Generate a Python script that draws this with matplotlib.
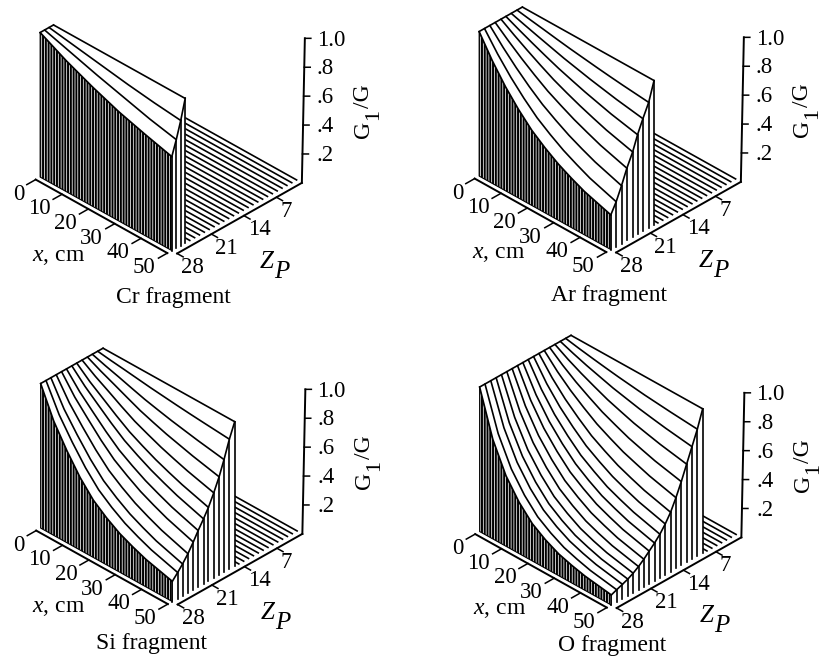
#!/usr/bin/env python
# -*- coding: utf-8 -*-
import numpy as np
import matplotlib
matplotlib.use("Agg")
import matplotlib.pyplot as plt
from mpl_toolkits.mplot3d import proj3d
from mpl_toolkits.mplot3d.art3d import Poly3DCollection

plt.rcParams["font.family"] = ["Liberation Serif", "DejaVu Serif"]
plt.rcParams["mathtext.fontset"] = "custom"
plt.rcParams["mathtext.rm"] = "Liberation Serif"
plt.rcParams["mathtext.it"] = "Liberation Serif:italic"
plt.rcParams["hatch.linewidth"] = 1.45

# x grids, cm
x_coarse = [0, 10, 20, 30, 40, 50]
x_fine = [0, 5, 10, 15, 20, 25, 30, 35, 40, 50]

# G1/G, one row per Z_P line, back to front
cr_z = [25, 26, 27, 28]
cr_g = [
    [1, 1, 1, 1, 1, 1],
    [1, 0.97, 0.94, 0.91, 0.885, 0.865],
    [1, 0.945, 0.89, 0.84, 0.79, 0.75],
    [1, 0.905, 0.825, 0.755, 0.70, 0.65],
]

ar_z = [18.3, 19.5, 20.8, 22.0, 23.1, 24.4, 25.6, 26.8, 28]
ar_g = [
    [1, 1, 1, 1, 1, 1, 1, 1, 1, 1],
    [1, 0.984, 0.969, 0.953, 0.938, 0.925, 0.912, 0.900, 0.889, 0.87],
    [1, 0.972, 0.945, 0.919, 0.893, 0.871, 0.849, 0.830, 0.811, 0.78],
    [1, 0.958, 0.918, 0.880, 0.844, 0.813, 0.783, 0.757, 0.731, 0.69],
    [1, 0.941, 0.886, 0.834, 0.785, 0.744, 0.706, 0.672, 0.640, 0.59],
    [1, 0.924, 0.853, 0.788, 0.728, 0.679, 0.633, 0.594, 0.557, 0.50],
    [1, 0.900, 0.810, 0.729, 0.657, 0.599, 0.546, 0.502, 0.462, 0.40],
    [1, 0.874, 0.764, 0.669, 0.585, 0.520, 0.462, 0.415, 0.372, 0.31],
    [1, 0.849, 0.72, 0.612, 0.52, 0.450, 0.39, 0.342, 0.30, 0.24],
]

si_z = [14, 15.2, 16.4, 17.5, 18.7, 19.9, 21, 22.2, 23.3, 24.5, 25.7, 26.8, 28]
si_g = [
    [1, 1, 1, 1, 1, 1, 1, 1, 1, 1],
    [1, 0.987, 0.976, 0.964, 0.952, 0.942, 0.932, 0.923, 0.915, 0.90],
    [1, 0.971, 0.945, 0.917, 0.890, 0.868, 0.847, 0.829, 0.811, 0.78],
    [1, 0.955, 0.915, 0.874, 0.834, 0.802, 0.772, 0.747, 0.722, 0.68],
    [1, 0.939, 0.886, 0.831, 0.780, 0.740, 0.702, 0.670, 0.640, 0.59],
    [1, 0.922, 0.856, 0.790, 0.729, 0.681, 0.637, 0.600, 0.566, 0.51],
    [1, 0.909, 0.832, 0.756, 0.687, 0.634, 0.586, 0.546, 0.509, 0.45],
    [1, 0.893, 0.805, 0.719, 0.642, 0.584, 0.532, 0.490, 0.451, 0.39],
    [1, 0.875, 0.775, 0.678, 0.594, 0.532, 0.476, 0.432, 0.392, 0.33],
    [1, 0.855, 0.740, 0.633, 0.541, 0.474, 0.416, 0.371, 0.331, 0.27],
    [1, 0.834, 0.706, 0.589, 0.491, 0.422, 0.363, 0.318, 0.278, 0.22],
    [1, 0.814, 0.674, 0.549, 0.447, 0.376, 0.317, 0.273, 0.235, 0.18],
    [1, 0.790, 0.636, 0.502, 0.397, 0.326, 0.268, 0.226, 0.190, 0.14],
]

o_z = [7.5, 8.7, 9.9, 11.1, 12.3, 13.5, 14.7, 15.9, 17.1, 18.3, 19.5, 20.7,
       21.9, 23.1, 24.3, 25.5, 26.8, 28]
o_g = [
    [1, 1, 1, 1, 1, 1, 1, 1, 1, 1],
    [1, 0.982, 0.966, 0.951, 0.937, 0.925, 0.913, 0.904, 0.895, 0.88],
    [1, 0.966, 0.935, 0.908, 0.881, 0.860, 0.839, 0.822, 0.806, 0.78],
    [1, 0.947, 0.901, 0.860, 0.821, 0.790, 0.760, 0.737, 0.715, 0.68],
    [1, 0.927, 0.863, 0.808, 0.757, 0.717, 0.679, 0.650, 0.622, 0.58],
    [1, 0.905, 0.825, 0.757, 0.695, 0.647, 0.603, 0.570, 0.538, 0.49],
    [1, 0.883, 0.786, 0.706, 0.634, 0.580, 0.531, 0.494, 0.460, 0.41],
    [1, 0.863, 0.753, 0.664, 0.585, 0.527, 0.475, 0.436, 0.401, 0.35],
    [1, 0.845, 0.722, 0.625, 0.541, 0.480, 0.425, 0.386, 0.351, 0.30],
    [1, 0.828, 0.695, 0.591, 0.503, 0.439, 0.384, 0.345, 0.310, 0.26],
    [1, 0.811, 0.668, 0.559, 0.467, 0.403, 0.347, 0.308, 0.273, 0.225],
    [1, 0.793, 0.639, 0.524, 0.429, 0.364, 0.308, 0.270, 0.236, 0.19],
    [1, 0.774, 0.610, 0.490, 0.393, 0.327, 0.272, 0.235, 0.203, 0.16],
    [1, 0.756, 0.582, 0.458, 0.360, 0.295, 0.241, 0.205, 0.175, 0.135],
    [1, 0.739, 0.558, 0.430, 0.332, 0.267, 0.215, 0.181, 0.152, 0.115],
    [1, 0.725, 0.537, 0.407, 0.309, 0.245, 0.195, 0.162, 0.135, 0.10],
    [1, 0.708, 0.514, 0.383, 0.285, 0.223, 0.174, 0.143, 0.117, 0.085],
    [1, 0.689, 0.488, 0.355, 0.258, 0.197, 0.151, 0.122, 0.099, 0.07],
]

x_ticks = [0, 10, 20, 30, 40, 50]
z_tick_labels = ["7", "14", "21", "28"]
z_tick_pos = [5.7, 13, 20.3, 28]
g_ticks = [0.2, 0.4, 0.6, 0.8, 1.0]
g_tick_labels = [".2", ".4", ".6", ".8", "1.0"]

FW, FH = 820, 664
AX_PX = 301.3  # square 3d axes, gives 170 px per world unit
LW = 1.2
FS = 16.5


def px_text(fig, x, y, s, **kw):
    kw.setdefault("ha", "center")
    kw.setdefault("va", "center")
    kw.setdefault("fontsize", FS)
    fig.text(x / FW, 1 - y / FH, s, **kw)


def tick_text(ax, x, z, g, s, ha):
    # plain 2d text at the projected spot of a 3d point
    xp, yp, _ = proj3d.proj_transform(x, z, g, ax.get_proj())
    ax.text2D(xp, yp, s, transform=ax.transData, ha=ha, va="center", fontsize=FS)


def draw_panel(fig, x, z, g, name, dx, dy, name_xy, tx, ty):
    x = np.array(x, dtype=float)
    z = np.array(z, dtype=float)
    g = np.array(g, dtype=float)
    zb = z[0]
    zf = z[-1]

    ax = fig.add_axes([(13.65 + dx) / FW, (FH - 260.95 - dy) / FH, AX_PX / FW, AX_PX / FH],
                      projection="3d", computed_zorder=False)
    ax.set_proj_type("ortho")
    ax.view_init(elev=34.2, azim=-45.2)
    ax.set_box_aspect((185.6, 177.1, 174.8))
    ax.set_axis_off()
    ax.patch.set_visible(False)
    ax.set_xticks([])
    ax.set_yticks([])
    ax.set_zticks([])

    # floor lines, the solid hides most of them
    for zl in np.arange(0, zb, 1.09):
        ax.plot([0, 50], [zl, zl], [0, 0], color="k", lw=LW, zorder=1)

    # back wall and x = 50 wall
    back = [[(x[0], zb, 0), (x[-1], zb, 0), (x[-1], zb, 1), (x[0], zb, 1)]]
    ax.add_collection3d(Poly3DCollection(back, facecolors="white", edgecolors="none", zorder=2))
    right = [(50, zi, 0) for zi in z] + [(50, zi, gi) for zi, gi in zip(z[::-1], g[::-1, -1])]
    ax.add_collection3d(Poly3DCollection([right], facecolors="white", edgecolors="none", zorder=3))
    for zi, gi in zip(z, g[:, -1]):
        ax.plot([50, 50], [zi, zi], [0, gi], color="k", lw=LW, zorder=4)

    # hatched front wall along the last Z_P
    front = [(xi, zf, 0) for xi in x] + [(xi, zf, gi) for xi, gi in zip(x[::-1], g[-1, ::-1])]
    ax.add_collection3d(Poly3DCollection([front], facecolors="white", edgecolors="k",
                                         linewidths=0.8, hatch="||||||", zorder=4))

    # top surface and its lines
    top = [(xi, zf, gi) for xi, gi in zip(x, g[-1])]
    top += [(50, zi, gi) for zi, gi in zip(z[::-1], g[::-1, -1])]
    top += [(xi, zb, gi) for xi, gi in zip(x[::-1], g[0, ::-1])]
    ax.add_collection3d(Poly3DCollection([top], facecolors="white", edgecolors="none", zorder=5))
    for zi, row in zip(z, g):
        ax.plot(x, np.full(len(x), zi), row, color="k", lw=LW, zorder=6, solid_capstyle="round")
    ax.plot(np.full(len(z), 50), z, g[:, -1], color="k", lw=LW, zorder=6)
    ax.plot([0, 0], [zb, zf], [1, 1], color="k", lw=LW, zorder=6)

    # axes, set off from the surface
    ax.plot([0, 50], [29, 29], [0, 0], color="k", lw=1.4, zorder=7)
    ax.plot([52, 52], [0, 28], [0, 0], color="k", lw=1.4, zorder=7)
    ax.plot([52, 52.574], [0, -0.334], [0, 1], color="k", lw=1.4, zorder=7)
    for xt in x_ticks:
        ax.plot([xt, xt], [29, 31], [0, 0], color="k", lw=1.1, zorder=7)
    for zt in z_tick_pos:
        ax.plot([52, 54.3], [zt, zt], [0, 0], color="k", lw=1.1, zorder=7)
    for gt in g_ticks:
        x0 = 52 + 0.574 * gt
        z0 = -0.334 * gt
        ax.plot([x0, x0 + 1.148], [z0, z0 - 0.668], [gt, gt], color="k", lw=1.1, zorder=7)

    ax.set_xlim(0, 50, view_margin=0)
    ax.set_ylim(28, 0, view_margin=0)
    ax.set_zlim(0, 1, view_margin=0)

    # tick labels need the final limits for their projection
    for xt in x_ticks:
        tick_text(ax, xt, 31.6, -0.055, str(xt), "right")
    for zt, lab in zip(z_tick_pos, z_tick_labels):
        tick_text(ax, 53.5, zt, -0.083, lab, "left")
    for gt, lab in zip(g_ticks, g_tick_labels):
        tick_text(ax, 54.8, -1.65, gt - 0.012, lab, "left")

    # axis titles
    px_text(fig, 59 + tx, 257 + ty, r"$\mathit{x}$, cm", fontsize=17)
    px_text(fig, 267 + dx, 262 + dy, "Z", style="italic", fontsize=18)
    px_text(fig, 282 + dx, 272 + dy, "P", style="italic", fontsize=18)
    px_text(fig, 364 + dx, 129 + dy, "G", rotation=90, fontsize=17)
    px_text(fig, 374 + dx, 114 + dy, "1", rotation=90, fontsize=16)
    px_text(fig, 364 + dx, 96.5 + dy, "/G", rotation=90, fontsize=17)
    px_text(fig, name_xy[0], name_xy[1], name, fontsize=17)


fig = plt.figure(figsize=(FW / 100, FH / 100), dpi=100)
draw_panel(fig, x_coarse, cr_z, cr_g, "Cr fragment", 0, 0, (173, 298), 0, 0)
draw_panel(fig, x_fine, ar_z, ar_g, "Ar fragment", 439, -1, (609, 295), 440, -4)
draw_panel(fig, x_fine, si_z, si_g, "Si fragment", 0.5, 351, (152, 643), 0, 350)
draw_panel(fig, x_fine, o_z, o_g, "O fragment", 439.5, 354.5, (612, 646), 441, 352)
fig.savefig("out.png", dpi=100)
